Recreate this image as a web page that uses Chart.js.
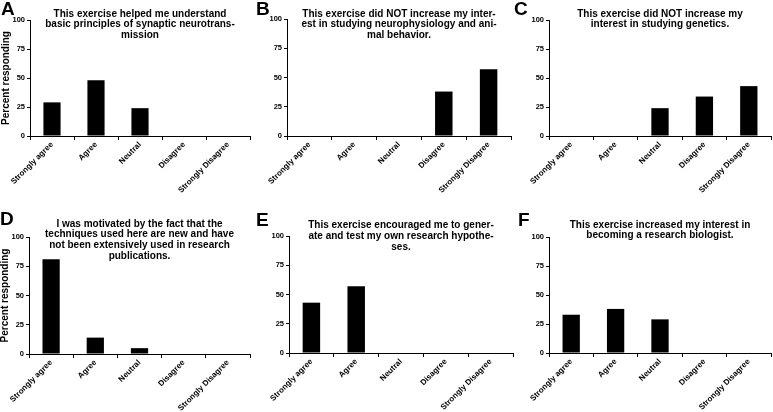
<!DOCTYPE html>
<html>
<head>
<meta charset="utf-8">
<script src="https://cdn.jsdelivr.net/npm/chart.js@4"></script>
<style>
  html, body { margin:0; padding:0; background:#fff; overflow:hidden; }
  body { width:773px; height:412px; position:relative; font-family:"Liberation Sans", Arial, sans-serif; }
  canvas { position:absolute; }
  .ttl { position:absolute; text-align:center; font-weight:bold; font-size:10px; line-height:10.8px; color:#000; white-space:nowrap; }
  .lt { position:absolute; font-weight:bold; font-size:19px; line-height:19px; color:#000; }
</style>
</head>
<body>
<script>
const categories = ['Strongly agree', 'Agree', 'Neutral', 'Disagree', 'Strongly Disagree'];
const yTicks = [0, 25, 50, 75, 100];
const valuesA = [29, 48, 24, 0, 0];
const valuesB = [0, 0, 0, 38, 57];
const valuesC = [0, 0, 24, 34, 43];
const valuesD = [81, 14, 5, 0, 0];
const valuesE = [43, 57, 0, 0, 0];
const valuesF = [33, 38, 29, 0, 0];
const panelLetters = ['A', 'B', 'C', 'D', 'E', 'F'];
const panelTitles = [
  ['This exercise helped me understand', 'basic principles of synaptic neurotrans-', 'mission'],
  ['This exercise did NOT increase my inter-', 'est in studying neurophysiology and ani-', 'mal behavior.'],
  ['This exercise did NOT increase my', 'interest in studying genetics.'],
  ['I was motivated by the fact that the', 'techniques used here are new and have', 'not been extensively used in research', 'publications.'],
  ['This exercise encouraged me to gener-', 'ate and test my own research hypothe-', 'ses.'],
  ['This exercise increased my interest in', 'becoming a research biologist.']
];
const yAxisTitle = 'Percent responding';
const seriesList = [valuesA, valuesB, valuesC, valuesD, valuesE, valuesF];

// layout: plot area boxes [left, right, top, bottom], letter pos, title top
const layout = [
  {pl:30,  pr:250, pt:20,  pb:136, lx:1,   ly:-1,  tt:8.5, axisTitle:true},
  {pl:287, pr:511, pt:19,  pb:136, lx:256, ly:-1,  tt:8.5, axisTitle:false},
  {pl:549, pr:771, pt:20,  pb:136, lx:514, ly:-1,  tt:8.5, axisTitle:false},
  {pl:29,  pr:250, pt:237, pb:354, lx:0,   ly:209, tt:218.5, axisTitle:true},
  {pl:289, pr:513, pt:236, pb:353, lx:256, ly:210, tt:220, axisTitle:false},
  {pl:549, pr:771, pt:237, pb:353, lx:518, ly:210, tt:219.5, axisTitle:false}
];

const YW = 30, PT = 10, PR = 3, XH = 62;
layout.forEach((L, i) => {
  const cv = document.createElement('canvas');
  const left = L.pl - YW, top = L.pt - PT;
  const w = L.pr + PR - left, h = PT + (L.pb - L.pt) + XH;
  cv.width = w; cv.height = h;
  cv.style.left = left + 'px'; cv.style.top = top + 'px';
  cv.style.width = w + 'px'; cv.style.height = h + 'px';
  document.body.appendChild(cv);

  const t = document.createElement('div');
  t.className = 'ttl';
  t.style.left = L.pl + 'px'; t.style.width = (L.pr - L.pl) + 'px'; t.style.top = L.tt + 'px';
  t.innerHTML = panelTitles[i].join('<br>');
  document.body.appendChild(t);

  const lt = document.createElement('div');
  lt.className = 'lt';
  lt.style.left = L.lx + 'px'; lt.style.top = L.ly + 'px';
  lt.textContent = panelLetters[i];
  document.body.appendChild(lt);

  new Chart(cv, {
    type: 'bar',
    data: {
      labels: categories,
      datasets: [{
        data: seriesList[i],
        backgroundColor: '#000',
        borderWidth: 0,
        categoryPercentage: 1,
        barPercentage: 0.39
      }]
    },
    options: {
      responsive: false,
      animation: false,
      devicePixelRatio: 1,
      layout: { padding: { top: PT, right: PR, left: 0, bottom: 0 } },
      plugins: { legend: { display: false }, tooltip: { enabled: false } },
      scales: {
        x: {
          afterFit: s => { s.height = XH; },
          grid: { offset: true, drawOnChartArea: false, drawTicks: true, tickLength: 4, color: '#000', lineWidth: 1 },
          border: { color: '#000', width: 1 },
          ticks: { minRotation: 45, maxRotation: 45, autoSkip: false, padding: 0, color: '#000',
                   font: { family: 'Liberation Sans', size: 8, weight: 'bold' } }
        },
        y: {
          min: 0, max: 100,
          afterFit: s => { s.width = YW; },
          afterBuildTicks: s => { s.ticks = yTicks.map(v => ({ value: v })); },
          grid: { drawOnChartArea: false, drawTicks: true, tickLength: 3, color: '#000', lineWidth: 1 },
          border: { color: '#000', width: 1 },
          ticks: { padding: 2, color: '#000', font: { family: 'Liberation Sans', size: 7.5, weight: 'bold' } },
          title: { display: L.axisTitle, text: yAxisTitle, color: '#000', padding: { top: 0, bottom: 0 },
                   font: { family: 'Liberation Sans', size: 10, weight: 'bold' } }
        }
      }
    }
  });
});
</script>
</body>
</html>
